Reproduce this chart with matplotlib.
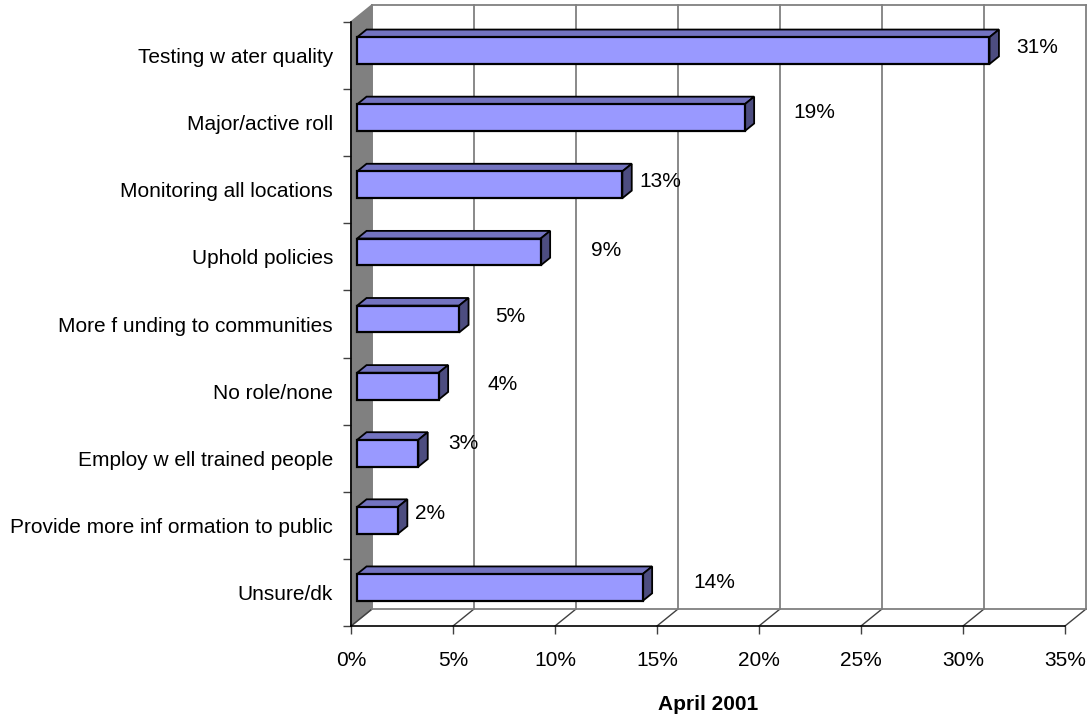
import matplotlib
matplotlib.use("Agg")
import matplotlib.pyplot as plt
from matplotlib.patches import Polygon

plt.rcParams['font.family'] = ['Liberation Sans', 'DejaVu Sans']

categories = ["Testing w ater quality", "Major/active roll", "Monitoring all locations",
              "Uphold policies", "More f unding to communities", "No role/none",
              "Employ w ell trained people", "Provide more inf ormation to public",
              "Unsure/dk"]
values = [31, 19, 13, 9, 5, 4, 3, 2, 14]
x_ticks = [0, 5, 10, 15, 20, 25, 30, 35]
x_title = "April 2001"

# label placement offsets in pixels from the bar end (excel puts them oddly)
label_dx = [48, 70, 38, 65, 51, 64, 45, 32, 72]
label_dy = [3, 5, 3, 1, 3, 2, 10, 7, 5]

# 3d depth, in axis units
DX = 21 / 20.4
DY = 17 / 67.11
F_FRONT = 0.29
F_BACK = 0.74
BAR_H = 0.40

FRONT = "#9999FF"
TOP = "#7373C0"
SIDE = "#4D4D80"
GRID = "#808080"
FS = 15

fig = plt.figure(figsize=(10.88, 7.19), dpi=100)
ax = fig.add_axes([351 / 1088, 93 / 719, 714 / 1088, 604 / 719])
ax.set_facecolor("none")
ax.set_xlim(0, 35)
ax.set_ylim(0, 9)

# back wall and floor
ax.add_patch(Polygon([(0, 0), (0, 9), (DX, 9 + DY), (DX, DY)], closed=True,
                     facecolor="#808080", edgecolor=GRID, lw=1.2, clip_on=False, zorder=1))
for t in x_ticks:
    ax.plot([t + DX, t + DX], [DY, 9 + DY], color=GRID, lw=1.3, clip_on=False, zorder=1)
    ax.plot([t, t + DX], [0, DY], color="#404040", lw=1.0, clip_on=False, zorder=1)
ax.plot([DX, 35 + DX], [9 + DY, 9 + DY], color=GRID, lw=1.3, clip_on=False, zorder=1)
ax.plot([DX, 35 + DX], [DY, DY], color=GRID, lw=1.3, clip_on=False, zorder=1)

n = len(categories)
for i, (v, dx, dy) in enumerate(zip(values, label_dx, label_dy)):
    c = n - i - 0.5
    x0f, x1f = F_FRONT * DX, v + F_FRONT * DX
    x0b, x1b = F_BACK * DX, v + F_BACK * DX
    yf, yb = c + F_FRONT * DY, c + F_BACK * DY
    top_f, bot_f = yf + BAR_H / 2, yf - BAR_H / 2
    top_b, bot_b = yb + BAR_H / 2, yb - BAR_H / 2
    ax.add_patch(Polygon([(x0f, top_f), (x1f, top_f), (x1b, top_b), (x0b, top_b)],
                         closed=True, facecolor=TOP, edgecolor="black", lw=1.3,
                         clip_on=False, zorder=3))
    ax.add_patch(Polygon([(x1f, bot_f), (x1f, top_f), (x1b, top_b), (x1b, bot_b)],
                         closed=True, facecolor=SIDE, edgecolor="black", lw=1.3,
                         clip_on=False, zorder=3))
    ax.add_patch(Polygon([(x0f, bot_f), (x1f, bot_f), (x1f, top_f), (x0f, top_f)],
                         closed=True, facecolor=FRONT, edgecolor="black", lw=1.6,
                         clip_on=False, zorder=4))
    ax.annotate(f"{v}%", xy=(x1f, yf), xytext=(dx, dy), textcoords="offset pixels",
                ha="center", va="center", fontsize=FS, zorder=5)

for s in ["top", "right"]:
    ax.spines[s].set_visible(False)
for s in ["left", "bottom"]:
    ax.spines[s].set_color("black")
    ax.spines[s].set_linewidth(1.2)
    ax.spines[s].set_zorder(6)

ax.set_xticks(x_ticks)
ax.set_xticklabels([f"{t}%" for t in x_ticks], fontsize=FS)
ax.tick_params(axis="x", length=5.8, width=1.0, pad=12, color="#404040")

ax.set_yticks(range(n + 1))
ax.set_yticklabels([""] * (n + 1))
ax.tick_params(axis="y", length=5.8, width=1.0, color="#404040")
ax.set_yticks([n - i - 0.5 for i in range(n)], minor=True)
ax.set_yticklabels(categories, minor=True, fontsize=FS)
ax.tick_params(axis="y", which="minor", length=0, pad=13)

ax.set_xlabel(x_title, fontsize=FS, fontweight="bold", labelpad=18)

fig.savefig("out.png", dpi=100)
